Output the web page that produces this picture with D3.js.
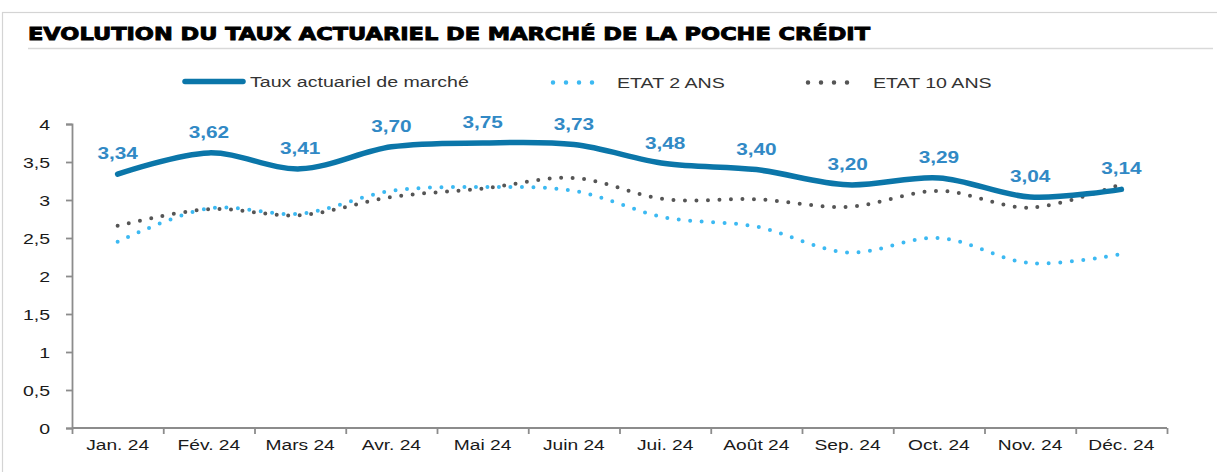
<!DOCTYPE html>
<meta charset="utf-8">
<script src="https://d3js.org/d3.v7.min.js"></script>
<style>
  body { margin: 0; background: #fff; }
  text { font-family: "Liberation Sans", Arial, sans-serif; }
</style>
<svg id="vis"></svg>
<script>
    // Data
    let months = ['Jan. 24', 'Fév. 24', 'Mars 24', 'Avr. 24', 'Mai 24', 'Juin 24',
                  'Jui. 24', 'Août 24', 'Sep. 24', 'Oct. 24', 'Nov. 24', 'Déc. 24']
    let tauxMarche = [3.34, 3.62, 3.41, 3.70, 3.75, 3.73, 3.48, 3.40, 3.20, 3.29, 3.04, 3.14]
    let etat2 = [2.45, 2.89, 2.82, 3.12, 3.17, 3.12, 2.77, 2.65, 2.31, 2.50, 2.17, 2.29]
    let etat10 = [2.66, 2.88, 2.80, 3.04, 3.15, 3.29, 3.01, 3.01, 2.91, 3.12, 2.90, 3.21]
    let yTicks = [0, 0.5, 1, 1.5, 2, 2.5, 3, 3.5, 4]
    let seriesNames = ['Taux actuariel de marché', 'ETAT 2 ANS', 'ETAT 10 ANS']

    let W = 1217, H = 472
    let svg = d3.select('#vis').attr('width', W).attr('height', H)

    // horizontally stretched text, the source picture is squeezed
    function stext(g, x, y, s, sx) {
        return g.append('text')
            .attr('transform', 'translate(' + x + ',' + y + ') scale(' + sx + ',1)')
            .text(s)
    }

    // frame
    svg.append('rect')
        .attr('x', 2.5).attr('y', 12.5).attr('width', W + 10).attr('height', H)
        .attr('fill', 'none').attr('stroke', '#d4d4d4').attr('stroke-width', 1.2)

    // title
    svg.append('text')
        .attr('x', 28).attr('y', 39.5)
        .attr('textLength', 842).attr('lengthAdjust', 'spacingAndGlyphs')
        .style('font-family', '"DejaVu Sans", sans-serif')
        .style('font-weight', 'bold').style('font-size', '17.5px')
        .style('stroke', '#000').style('stroke-width', '0.9px')
        .text('EVOLUTION DU TAUX ACTUARIEL DE MARCHÉ DE LA POCHE CRÉDIT')
    svg.append('line')
        .attr('x1', 28).attr('x2', 1213).attr('y1', 48.5).attr('y2', 48.5)
        .attr('stroke', '#d9d9d9').attr('stroke-width', 1.5)

    // scales
    var x = d3.scaleBand().domain(months).range([72, 1167])
    var xb = d3.scaleLinear().domain([0, months.length]).range([72, 1167])
    var y = d3.scaleLinear().domain([0, 4]).range([428, 124])
    let fmt = function (d) { return String(d).replace('.', ',') }
    let cx = function (i) { return x(months[i]) + x.bandwidth() / 2 }

    // y axis
    let gy = svg.append('g').attr('transform', 'translate(72,0)')
        .call(d3.axisLeft(y).tickValues(yTicks).tickSize(6).tickFormat(''))
    gy.selectAll('path, line').attr('stroke', '#8c8c8c').attr('stroke-width', 1.8)
    gy.selectAll('.tick').each(function (d) {
        stext(d3.select(this), -22, 5.5, fmt(d), 1.3)
            .attr('text-anchor', 'end').style('font-size', '15px').attr('fill', '#1a1a1a')
    })

    // x axis (ticks between months)
    let gx = svg.append('g').attr('transform', 'translate(0,428)')
        .call(d3.axisBottom(xb).tickValues(d3.range(months.length + 1)).tickSize(6).tickFormat(''))
    gx.selectAll('path, line').attr('stroke', '#8c8c8c').attr('stroke-width', 1.8)
    gx.select('.domain').attr('d', 'M72,0H1167')
    months.forEach(function (m, i) {
        stext(svg, cx(i), 450, m, 1.37)
            .attr('text-anchor', 'middle').style('font-size', '14px').attr('fill', '#1a1a1a')
    })

    // lines
    let line = d3.line()
        .x(function (d, i) { return cx(i) })
        .y(function (d) { return y(d) })
        .curve(d3.curveCatmullRom.alpha(0.5))

    svg.append('path').datum(etat10)
        .attr('d', line).attr('fill', 'none')
        .attr('stroke', '#555555').attr('stroke-width', 4)
        .attr('stroke-linecap', 'round').attr('stroke-dasharray', '0 11.5')

    svg.append('path').datum(etat2)
        .attr('d', line).attr('fill', 'none')
        .attr('stroke', '#3cb9f2').attr('stroke-width', 4)
        .attr('stroke-linecap', 'round').attr('stroke-dasharray', '0 11.5')

    svg.append('path').datum(tauxMarche)
        .attr('d', line).attr('fill', 'none')
        .attr('stroke', '#0b76a9').attr('stroke-width', 5.5)
        .attr('stroke-linecap', 'round')

    // data labels
    tauxMarche.forEach(function (v, i) {
        stext(svg, cx(i), y(v) - 15, v.toFixed(2).replace('.', ','), 1.3)
            .attr('text-anchor', 'middle').style('font-size', '16px')
            .style('font-weight', 'bold').attr('fill', '#3189c5')
    })

    // legend
    let lg = svg.append('g')
    lg.append('line').attr('x1', 185).attr('x2', 243).attr('y1', 81.5).attr('y2', 81.5)
        .attr('stroke', '#0b76a9').attr('stroke-width', 5.5).attr('stroke-linecap', 'round')
    stext(lg, 250, 87, seriesNames[0], 1.4).style('font-size', '14px').attr('fill', '#333')

    lg.append('line').attr('x1', 553).attr('x2', 605).attr('y1', 82.5).attr('y2', 82.5)
        .attr('stroke', '#3cb9f2').attr('stroke-width', 4.5)
        .attr('stroke-linecap', 'round').attr('stroke-dasharray', '0 13')
    stext(lg, 617, 87.5, seriesNames[1], 1.4).style('font-size', '14px').attr('fill', '#333')

    lg.append('line').attr('x1', 808).attr('x2', 860).attr('y1', 82.5).attr('y2', 82.5)
        .attr('stroke', '#555555').attr('stroke-width', 4.5)
        .attr('stroke-linecap', 'round').attr('stroke-dasharray', '0 13')
    stext(lg, 873, 87.5, seriesNames[2], 1.4).style('font-size', '14px').attr('fill', '#333')
</script>
